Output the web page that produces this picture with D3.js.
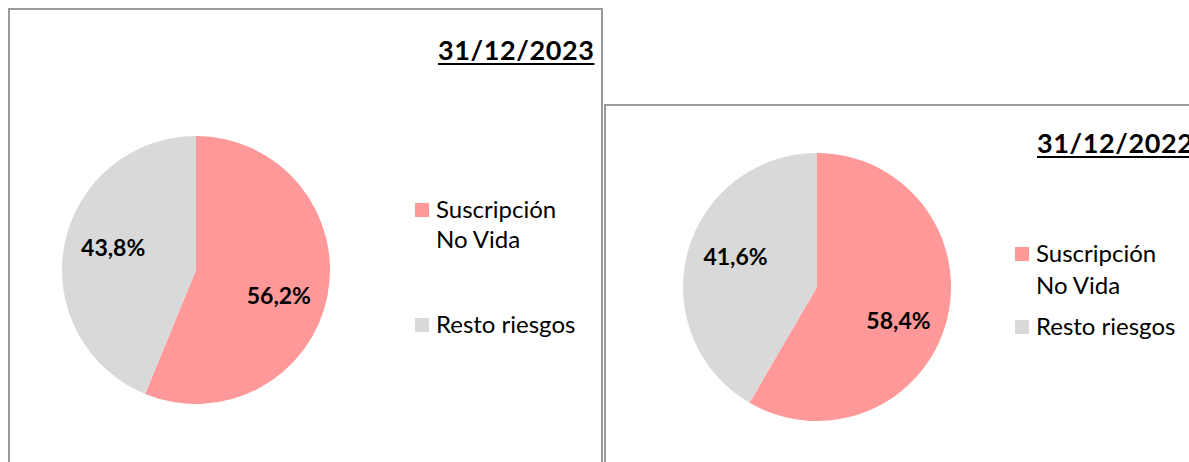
<!DOCTYPE html>
<html lang="es">
<head>
  <meta charset="UTF-8">
  <title>Distribución de riesgos</title>
  <script src="https://cdn.jsdelivr.net/npm/d3@7"></script>
  <style>
    body { margin: 0; background: #fff; }
    svg { display: block; font-family: Lato, "Open Sans", sans-serif; }
    .frame { fill: #fff; stroke: #9a9a9a; stroke-width: 2; }
    .title { font-weight: bold; font-size: 27px; letter-spacing: 0.6px; fill: #000; }
    .pct { font-weight: bold; font-size: 23px; fill: #000; text-anchor: middle; }
    .legend text { font-size: 24px; fill: #000; }
  </style>
</head>
<body>
  <svg width="1189" height="462"></svg>
  <script>
    // data
    const categories = ['Suscripción No Vida', 'Resto riesgos'];
    const fechas = ['31/12/2023', '31/12/2022'];
    const valores2023 = [56.2, 43.8];
    const valores2022 = [58.4, 41.6];
    const colores = ['#ff9999', '#d9d9d9'];

    const svg = d3.select('svg');
    const color = d3.scaleOrdinal(categories, colores);
    const fmt = v => d3.format('.1f')(v).replace('.', ',') + '%';

    // panel layout (frames, pie centre, legend place)
    const paneles = [
      { fecha: fechas[0], valores: valores2023, x: 9, y: 9, w: 593, h: 520,
        cx: 196, cy: 270, r: 134, titleX: 438, titleY: 60,
        legX: 415, legY: [203, 318], lineGap: 30 },
      { fecha: fechas[1], valores: valores2022, x: 605, y: 105, w: 620, h: 420,
        cx: 817, cy: 287, r: 134, titleX: 1037, titleY: 153,
        legX: 1015, legY: [247, 320], lineGap: 32 }
    ];

    const pie = d3.pie().sort(null).value(d => d.value);

    paneles.forEach(p => {
      const g = svg.append('g');

      g.append('rect')
        .attr('class', 'frame')
        .attr('x', p.x).attr('y', p.y)
        .attr('width', p.w).attr('height', p.h);

      const title = g.append('text')
        .attr('class', 'title')
        .attr('x', p.titleX)
        .attr('y', p.titleY)
        .text(p.fecha);
      const tb = title.node().getBBox();
      g.append('line')
        .attr('x1', tb.x).attr('x2', tb.x + tb.width)
        .attr('y1', p.titleY + 4).attr('y2', p.titleY + 4)
        .attr('stroke', '#000').attr('stroke-width', 2);

      const data = categories.map((c, i) => ({ label: c, value: p.valores[i] }));
      const arc = d3.arc().innerRadius(0).outerRadius(p.r);
      const labelArc = d3.arc().innerRadius(p.r * 0.63).outerRadius(p.r * 0.63);

      const pg = g.append('g').attr('transform', `translate(${p.cx},${p.cy})`);
      const arcs = pg.selectAll('.arc')
        .data(pie(data))
        .enter()
        .append('g')
        .attr('class', 'arc');

      arcs.append('path')
        .attr('d', arc)
        .attr('fill', d => color(d.data.label));

      // excel puts the labels a bit further up/down than the centroid
      arcs.append('text')
        .attr('class', 'pct')
        .attr('transform', d => {
          const c = labelArc.centroid(d);
          return `translate(${c[0]},${c[1] * 1.45 + 2})`;
        })
        .attr('dy', '0.35em')
        .text(d => fmt(d.data.value));

      // legend
      const leg = g.append('g').attr('class', 'legend');
      categories.forEach((c, i) => {
        const y0 = p.legY[i];
        leg.append('rect')
          .attr('x', p.legX).attr('y', y0)
          .attr('width', 14).attr('height', 14)
          .attr('fill', color(c));
        const words = i === 0 ? ['Suscripción', 'No Vida'] : [c];
        words.forEach((w, k) => {
          leg.append('text')
            .attr('x', p.legX + 21)
            .attr('y', y0 + 15 + k * p.lineGap)
            .text(w);
        });
      });
    });
  </script>
</body>
</html>
